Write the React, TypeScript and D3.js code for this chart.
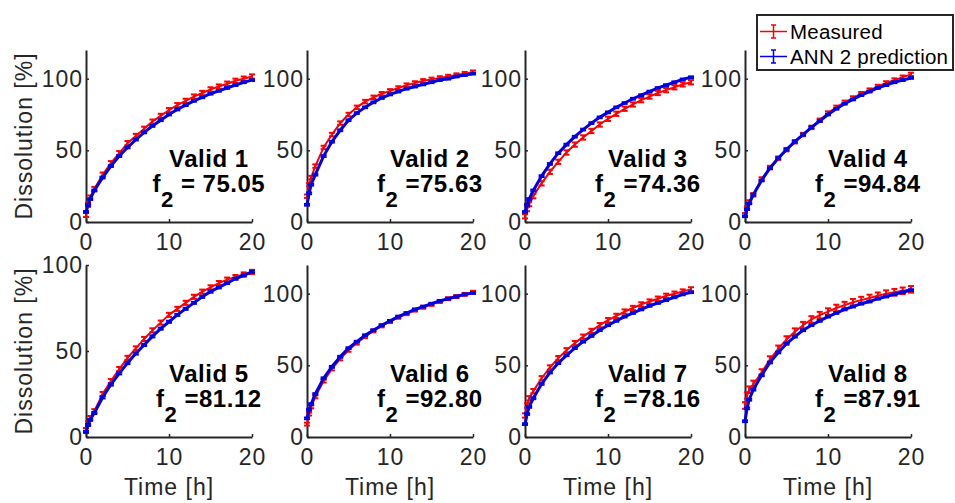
import React, { useEffect, useRef } from 'react';
import * as d3 from 'd3';

// sampling times [h]
const TIME = [0, 0.25, 0.5, 1, 2, 3, 4, 5, 6, 7, 8, 9, 10, 11, 12, 13, 14, 15, 16, 17, 18, 19, 20];

// measured dissolution [%]
const MEASURED_1 = [5, 12, 17, 23, 33, 41, 48, 55, 60, 65, 70, 74, 78, 81.5, 84.5, 87.5, 90, 92.5, 94.5, 96.5, 98.5, 100, 101.5];
const MEASURED_2 = [18, 26, 31, 39, 52, 61, 69, 75, 80, 84, 87, 89.5, 91.5, 93.5, 95.5, 97, 98.5, 99.5, 100.5, 101.5, 102.5, 103.5, 104.5];
const MEASURED_3 = [4, 9, 12.5, 18, 27, 35, 42, 48.5, 54, 59, 63.5, 68, 72, 75.5, 79, 82, 85, 87.5, 90, 92, 94, 96, 97.5];
const MEASURED_4 = [5, 10, 14, 19, 30, 38, 44.5, 50.5, 56, 61, 66, 71, 76, 80, 83.5, 86.5, 89.5, 92, 94.5, 97, 99, 101, 103];
const MEASURED_5 = [4, 8, 11, 15, 25, 32.5, 39.5, 46, 51.5, 57, 62, 66.5, 71, 74.5, 78, 81.5, 84.5, 87, 89.5, 91.5, 93, 94.5, 96];
const MEASURED_6 = [9, 16, 21, 28, 39, 47.5, 54.5, 60.5, 65.5, 70, 74, 77.5, 80.5, 83.5, 86, 88.5, 90.5, 92.5, 94.5, 96.5, 98, 99.5, 101];
const MEASURED_7 = [15, 22, 27, 32, 41, 48.5, 55, 60.5, 65.5, 70, 74, 78, 81.5, 84.5, 87.5, 90, 92.5, 94.5, 96.5, 98.5, 100, 101.5, 103];
const MEASURED_8 = [22, 29, 33, 37, 45, 54, 61.5, 68, 73.5, 78, 82, 85, 87.5, 90, 92, 94, 95.5, 97, 98.5, 100, 101, 102, 103];

// ANN 2 prediction [%]
const PREDICTED_1 = [7, 12, 16, 22, 31, 39, 46, 52, 57.5, 62.5, 67, 71, 75, 78.5, 81.5, 84.5, 87, 89.5, 91.5, 93.5, 95.5, 97.5, 99];
const PREDICTED_2 = [12, 20, 26, 33, 46, 56, 64, 71, 76, 80, 83.5, 86.5, 89, 91, 93, 94.5, 96, 97.5, 99, 100, 101.5, 102.5, 103.5];
const PREDICTED_3 = [7, 12, 16, 22, 32, 40.5, 48, 54, 59.5, 64.5, 69, 73, 76.5, 80, 83, 86, 88.5, 91, 93.5, 95.5, 97.5, 99.5, 101];
const PREDICTED_4 = [4, 9, 13, 19, 29, 37.5, 44.5, 50.5, 56, 61, 66, 70.5, 75, 79, 82.5, 85.5, 88.5, 91, 93.5, 95.5, 97.5, 99, 100.5];
const PREDICTED_5 = [3, 7, 10, 14, 23, 30.5, 37, 43, 48.5, 53.5, 58.5, 63, 67, 71, 74.5, 78, 81.5, 84.5, 87, 89.5, 92, 94, 96];
const PREDICTED_6 = [13, 19, 23, 30, 41, 49, 56, 62, 66.5, 71, 74.5, 78, 81, 84, 86.5, 89, 91, 93, 95, 96.5, 98, 99.5, 100.5];
const PREDICTED_7 = [9, 16, 21, 27, 37, 45, 51.5, 57, 62, 66.5, 70.5, 74.5, 78, 81, 84, 86.5, 89, 91.5, 93.5, 95.5, 97.5, 99.5, 101];
const PREDICTED_8 = [11, 20, 26, 33, 43, 52, 59, 65, 70, 74.5, 78, 81, 84, 86.5, 89, 91, 93, 94.5, 96.5, 98, 99.5, 101, 102.5];

// error bar half-heights per panel [%]
const MEASURED_SD = [1.5, 1.2, 1.5, 1.2, 1.2, 1.0, 1.5, 2.3];
const PREDICTED_SD = [0.6, 0.6, 0.6, 0.6, 0.6, 0.6, 0.6, 0.6];

const MEASURED = [MEASURED_1, MEASURED_2, MEASURED_3, MEASURED_4, MEASURED_5, MEASURED_6, MEASURED_7, MEASURED_8];
const PREDICTED = [PREDICTED_1, PREDICTED_2, PREDICTED_3, PREDICTED_4, PREDICTED_5, PREDICTED_6, PREDICTED_7, PREDICTED_8];

const PANEL_TITLES = ['Valid 1', 'Valid 2', 'Valid 3', 'Valid 4', 'Valid 5', 'Valid 6', 'Valid 7', 'Valid 8'];
const F2_TEXT = [' = 75.05', ' =75.63', ' =74.36', ' =94.84', ' =81.12', ' =92.80', ' =78.16', ' =87.91'];
const Y_MAX = [120, 120, 120, 120, 100, 120, 120, 120];
const X_TICKS = [0, 10, 20];
const Y_TICKS = [0, 50, 100];
const LEGEND_LABELS = ['Measured', 'ANN 2 prediction'];

const W = 955;
const H = 503;
const FONT = "'Liberation Sans', Arial, Helvetica, sans-serif";
const AXIS_COLOR = '#262626';
const RED = '#ff0000';
const BLUE = '#0000e6';

const App: React.FC = () => {
  const svgRef = useRef<SVGSVGElement>(null);

  useEffect(() => {
    if (!svgRef.current) return;
    const svg = d3.select(svgRef.current);
    svg.selectAll('*').remove();

    svg.append('rect').attr('width', W).attr('height', H).attr('fill', '#fff');

    const colX = [86, 307, 525, 745];
    const rows = [{ top: 50, bottom: 222 }, { top: 265, bottom: 437 }];
    const pw = 166;

    const styleTicks = (a: d3.Selection<SVGGElement, unknown, null, undefined>) => {
      a.select('.domain').attr('stroke', AXIS_COLOR).attr('stroke-width', 2);
      a.selectAll('.tick line').attr('stroke', AXIS_COLOR).attr('stroke-width', 1.5);
      a.selectAll('.tick text')
        .attr('fill', AXIS_COLOR)
        .style('font-family', FONT)
        .style('font-size', '23px')
        .style('letter-spacing', '1px');
    };

    PANEL_TITLES.forEach((title, i) => {
      const row = rows[Math.floor(i / 4)];
      const left = colX[i % 4];
      const g = svg.append('g').attr('transform', `translate(${left},0)`);

      const x = d3.scaleLinear().domain([0, 20]).range([0, pw]);
      const y = d3.scaleLinear().domain([0, Y_MAX[i]]).range([row.bottom, row.top]);

      // axes
      g.append('g')
        .attr('transform', `translate(0,${row.bottom})`)
        .call(d3.axisBottom(x).tickValues(X_TICKS).tickSizeInner(-3).tickSizeOuter(0).tickPadding(12))
        .call(styleTicks);

      g.append('g')
        .call(d3.axisLeft(y).tickValues(Y_TICKS).tickSizeInner(-3).tickSizeOuter(0).tickPadding(3))
        .call(styleTicks);

      const series = [
        { vals: MEASURED[i], sd: MEASURED_SD[i], color: RED, lw: 2 },
        { vals: PREDICTED[i], sd: PREDICTED_SD[i], color: BLUE, lw: 3 },
      ];

      series.forEach(s => {
        const pts = TIME.map((t, k) => ({ t, v: s.vals[k] }));
        const line = d3.line<{ t: number; v: number }>().x(d => x(d.t)).y(d => y(d.v));
        g.append('path')
          .datum(pts)
          .attr('d', line)
          .attr('fill', 'none')
          .attr('stroke', s.color)
          .attr('stroke-width', s.lw);

        const bars = g.append('g').attr('stroke', s.color).attr('stroke-width', 2);
        pts.forEach(d => {
          const cx = x(d.t);
          const y1 = y(d.v - s.sd);
          const y2 = y(d.v + s.sd);
          bars.append('line').attr('x1', cx).attr('x2', cx).attr('y1', y1).attr('y2', y2);
          bars.append('line').attr('x1', cx - 3).attr('x2', cx + 3).attr('y1', y1).attr('y2', y1);
          bars.append('line').attr('x1', cx - 3).attr('x2', cx + 3).attr('y1', y2).attr('y2', y2);
        });
      });

      // annotation
      const cx = pw * 0.74;
      g.append('text')
        .attr('x', cx)
        .attr('y', row.bottom - 55)
        .attr('text-anchor', 'middle')
        .style('font-family', FONT)
        .style('font-size', '24px')
        .style('font-weight', 'bold')
        .style('letter-spacing', '0.5px')
        .text(title);

      const f2 = g.append('text')
        .attr('x', cx)
        .attr('y', row.bottom - 30)
        .attr('text-anchor', 'middle')
        .style('font-family', FONT)
        .style('font-size', '24px')
        .style('font-weight', 'bold')
        .style('letter-spacing', '0.5px');
      f2.append('tspan').text('f');
      f2.append('tspan').attr('dy', 15).style('font-size', '22px').text('2');
      f2.append('tspan').attr('dy', -15).text(F2_TEXT[i]);

      // axis labels
      if (i % 4 === 0) {
        g.append('text')
          .attr('transform', `translate(${32 - left},${(row.top + row.bottom) / 2}) rotate(-90)`)
          .attr('text-anchor', 'middle')
          .attr('fill', AXIS_COLOR)
          .style('font-family', FONT)
          .style('font-size', '23px')
          .style('letter-spacing', '1px')
          .text('Dissolution [%]');
      }
      if (i >= 4) {
        g.append('text')
          .attr('x', pw / 2)
          .attr('y', 495)
          .attr('text-anchor', 'middle')
          .attr('fill', AXIS_COLOR)
          .style('font-family', FONT)
          .style('font-size', '23px')
          .style('letter-spacing', '1px')
          .text('Time [h]');
      }
    });

    // legend
    const lg = svg.append('g');
    lg.append('rect')
      .attr('x', 757).attr('y', 15).attr('width', 196).attr('height', 55)
      .attr('fill', '#fff').attr('stroke', '#262626').attr('stroke-width', 2);
    const legendColors = [RED, BLUE];
    LEGEND_LABELS.forEach((label, k) => {
      const cy = 31.5 + k * 25;
      const c = legendColors[k];
      lg.append('line').attr('x1', 760).attr('x2', 787).attr('y1', cy).attr('y2', cy)
        .attr('stroke', c).attr('stroke-width', 1.5);
      lg.append('line').attr('x1', 773.5).attr('x2', 773.5).attr('y1', cy - 6.5).attr('y2', cy + 6.5)
        .attr('stroke', c).attr('stroke-width', 1.5);
      lg.append('line').attr('x1', 771).attr('x2', 776).attr('y1', cy - 6.5).attr('y2', cy - 6.5)
        .attr('stroke', c).attr('stroke-width', 1.5);
      lg.append('line').attr('x1', 771).attr('x2', 776).attr('y1', cy + 6.5).attr('y2', cy + 6.5)
        .attr('stroke', c).attr('stroke-width', 1.5);
      lg.append('text')
        .attr('x', 790).attr('y', cy + 7)
        .attr('fill', '#000')
        .style('font-family', FONT)
        .style('font-size', '20.5px')
        .style('letter-spacing', '0.2px')
        .text(label);
    });
  }, []);

  return (
    <div style={{ position: 'absolute', left: 0, top: 0, width: W, height: H, background: '#fff' }}>
      <svg ref={svgRef} width={W} height={H} />
    </div>
  );
};

export default App;
